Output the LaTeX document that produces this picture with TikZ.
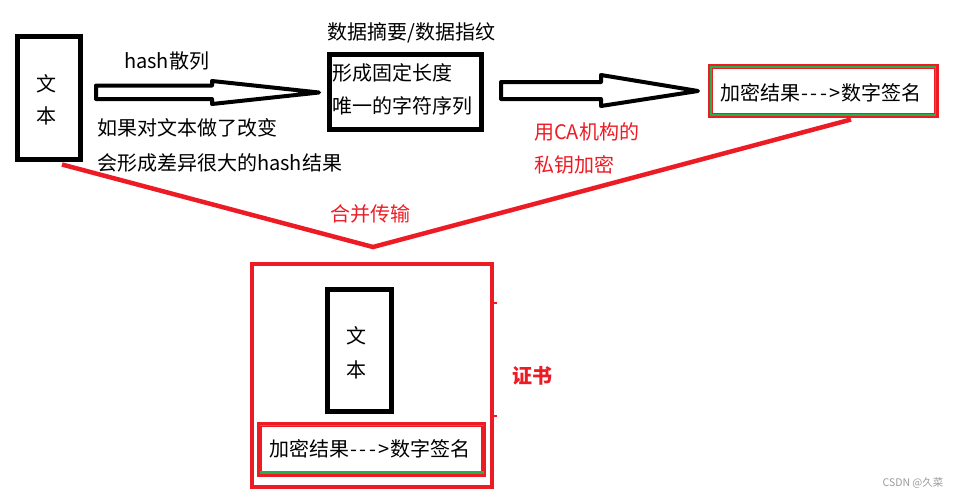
\documentclass[tikz,border=0pt]{standalone}
\usepackage{fontspec}
\setmainfont[Ligatures=NoCommon]{Noto Sans CJK SC}
\usetikzlibrary{calc}
\definecolor{pred}{HTML}{ED1C24}
\definecolor{pgreen}{HTML}{22B14C}
\definecolor{wmgray}{HTML}{9A9A9A}
\newcommand{\sigtext}{加密结果\kern1.5pt{-}\kern2.5pt{-}\kern2.5pt{-}\kern2pt{>}\kern1.5pt 数字签名}
\begin{document}
\begin{tikzpicture}[x=1pt,y=-1pt,
  font=\fontsize{20}{24}\selectfont,
  txt/.style={inner sep=0pt, anchor=west},
  ctxt/.style={inner sep=0pt},
  redtxt/.style={txt, text=pred},
  blackbox/.style={draw=black, line width=5pt, inner sep=0pt},
  redbox/.style={draw=pred, line width=5pt, inner sep=0pt},
  fatarrow/.style={draw=black, fill=white, line width=4pt, line join=round},
  redline/.style={draw=pred, line width=4.5pt, line join=miter}]
\useasboundingbox (0,0) rectangle (960,498);

% top row boxes
\node[blackbox, minimum width=63pt, minimum height=123pt] (b1) at (49,98) {};
\node[ctxt] (b1t1) at (46,84) {文};
\node[ctxt] (b1t2) at (46,116) {本};

\node[blackbox, minimum width=152pt, minimum height=75pt] (b2) at (405.5,92) {};
\node[txt] (b2t1) at (332,73) {形成固定长度};
\node[txt] (b2t2) at (332,106) {唯一的字符序列};
\node[txt] (b2lab) at (327,33) {数据摘要/数据指纹};

\node[redbox, minimum width=226pt, minimum height=49pt] (b3) at (823.5,91) {};
\draw[pgreen, line width=1.5pt] ($(b3.north west)+(3,3)$) rectangle ($(b3.south east)+(-3.5,-3)$);
\node[ctxt] (b3t) at (821,93) {\sigtext};

% fat arrows
\draw[fatarrow] (96,85.5) -- (212,85.5) -- (212,81) -- (319,92.5) -- (212,104) -- (212,99) -- (96,99) -- cycle;
\draw[fatarrow] (501,82) -- (601,82) -- (601,75) -- (698,91) -- (601,106) -- (601,99) -- (501,99) -- cycle;

\node[txt] (hashlab) at (124,61) {hash散列};
\node[txt] (chg1) at (97,128) {如果对文本做了改变};
\node[txt] (chg2) at (97,163) {会形成差异很大的hash结果};
\node[redtxt] (ca1) at (534,132) {用CA机构的};
\node[redtxt] (ca2) at (534,165) {私钥加密};

% merge lines
\coordinate (v1) at ($(b1.south)+(13,2.5)$);
\coordinate (apex) at (373,247);
\coordinate (v3) at ($(b3.south)+(27.5,1.5)$);
\draw[redline] (v1) -- (apex) -- (v3);
\node[ctxt, text=pred] (merge) at (370,214) {合并传输};

% certificate
\node[draw=pred, line width=4pt, inner sep=0pt, minimum width=240pt, minimum height=223pt] (cert) at (372,375.5) {};
\draw[pred, line width=2pt] ($(cert.north east)+(0,41)$) -- +(2.5,0);
\draw[pred, line width=2pt] ($(cert.north east)+(0,154)$) -- +(2.5,0);
\node[blackbox, minimum width=64pt, minimum height=122pt] (cb) at (359.5,350.5) {};
\node[ctxt] (cbt1) at (356,336) {文};
\node[ctxt] (cbt2) at (356,370) {本};
\node[redbox, minimum width=224pt, minimum height=50pt] (cs) at (371.5,449.5) {};
\draw[pgreen, line width=2.5pt] ($(cs.south west)+(2.5,-4.5)$) -- ($(cs.south east)+(-2.5,-4.5)$);
\draw[pgreen, line width=1pt] ($(cs.north west)+(2.5,3.5)$) -- ($(cs.north east)+(-2.5,3.5)$);
\node[ctxt] (cst) at (370,449) {\sigtext};
\node[ctxt, text=pred, font=\fontsize{20}{24}\selectfont\bfseries] (certlab) at (532,376) {证书};

\node[ctxt, text=wmgray, font=\fontsize{10.5}{12}\selectfont] (wm) at (913,483) {CSDN @久菜};
\end{tikzpicture}
\end{document}
